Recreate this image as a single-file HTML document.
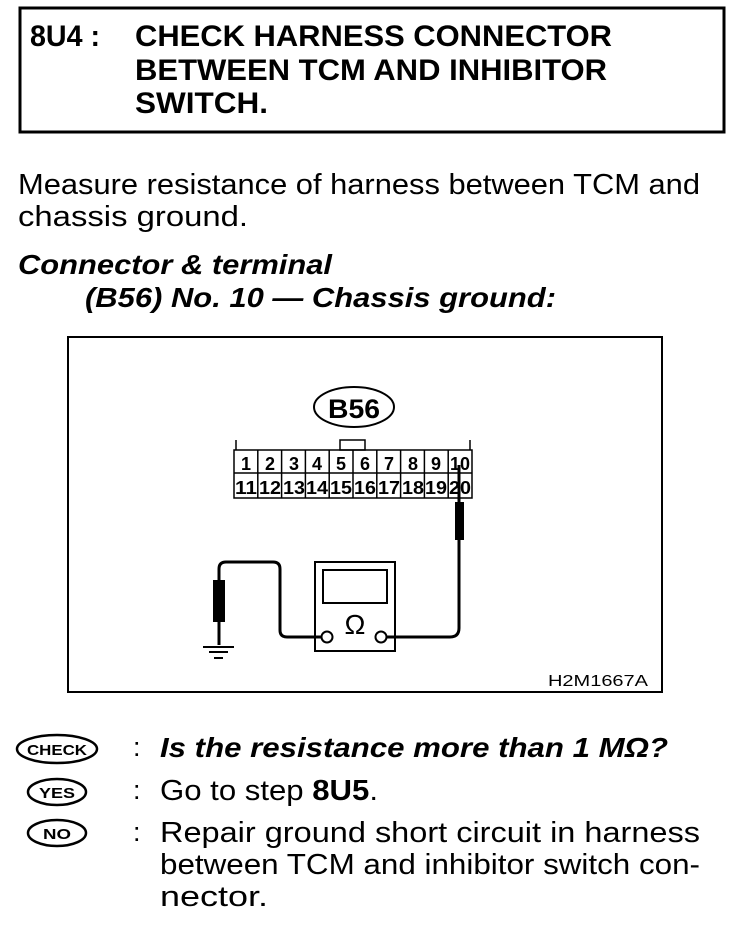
<!DOCTYPE html>
<html><head><meta charset="utf-8"><style>
html,body{margin:0;padding:0;background:#fff}
svg{display:block}
text{font-family:"Liberation Sans Narrow","Liberation Sans",sans-serif;fill:#000}
.b{font-weight:bold}
.bi{font-weight:bold;font-style:italic}
</style></head><body>
<svg width="736" height="926" viewBox="0 0 736 926" xmlns="http://www.w3.org/2000/svg">
<rect x="20" y="8" width="704" height="124" fill="none" stroke="#000" stroke-width="3"/>
<text class="b" x="30" y="46" font-size="30" textLength="70" lengthAdjust="spacingAndGlyphs">8U4 :</text>
<text class="b" x="135" y="46" font-size="30" textLength="477" lengthAdjust="spacingAndGlyphs">CHECK HARNESS CONNECTOR</text>
<text class="b" x="135" y="80" font-size="30" textLength="472" lengthAdjust="spacingAndGlyphs">BETWEEN TCM AND INHIBITOR</text>
<text class="b" x="135" y="113" font-size="30" textLength="133" lengthAdjust="spacingAndGlyphs">SWITCH.</text>

<text x="18" y="194" font-size="29" textLength="682" lengthAdjust="spacingAndGlyphs">Measure resistance of harness between TCM and</text>
<text x="18" y="226" font-size="29" textLength="230" lengthAdjust="spacingAndGlyphs">chassis ground.</text>
<text class="bi" x="18" y="274" font-size="28" textLength="314" lengthAdjust="spacingAndGlyphs">Connector &amp; terminal</text>
<text class="bi" x="85" y="307" font-size="28" textLength="471" lengthAdjust="spacingAndGlyphs">(B56) No. 10 — Chassis ground:</text>

<rect x="68" y="337" width="594" height="355" fill="none" stroke="#000" stroke-width="2"/>
<text x="548" y="686" font-size="16" textLength="100" lengthAdjust="spacingAndGlyphs">H2M1667A</text>

<ellipse cx="354" cy="407" rx="40" ry="20" fill="none" stroke="#000" stroke-width="2"/>
<text class="b" x="354" y="418" font-size="27" text-anchor="middle" font-family="Liberation Sans" textLength="52" lengthAdjust="spacingAndGlyphs">B56</text>

<g stroke="#000" fill="none" stroke-width="1.5">
<rect x="340" y="440" width="25" height="10"/>
<line x1="236" y1="440" x2="236" y2="450"/>
<line x1="470" y1="440" x2="470" y2="450"/>
<rect x="234" y="450" width="238" height="48"/>
<line x1="234" y1="473" x2="472" y2="473"/>
</g>
<g stroke="#000" stroke-width="1.5">
<line x1="257.8" y1="450" x2="257.8" y2="498"/><line x1="281.6" y1="450" x2="281.6" y2="498"/>
<line x1="305.4" y1="450" x2="305.4" y2="498"/><line x1="329.2" y1="450" x2="329.2" y2="498"/>
<line x1="353" y1="450" x2="353" y2="498"/><line x1="376.8" y1="450" x2="376.8" y2="498"/>
<line x1="400.6" y1="450" x2="400.6" y2="498"/><line x1="424.4" y1="450" x2="424.4" y2="498"/>
<line x1="448.2" y1="450" x2="448.2" y2="498"/>
</g>
<g font-size="18" font-family="Liberation Sans" font-weight="bold" text-anchor="middle">
<text x="246" y="470">1</text><text x="270" y="470">2</text><text x="294" y="470">3</text><text x="317" y="470">4</text><text x="341" y="470">5</text><text x="365" y="470">6</text><text x="389" y="470">7</text><text x="413" y="470">8</text><text x="436" y="470">9</text><text x="460" y="470" textLength="20" lengthAdjust="spacingAndGlyphs">10</text>
<text x="246" y="494" textLength="22" lengthAdjust="spacingAndGlyphs">11</text><text x="270" y="494" textLength="22" lengthAdjust="spacingAndGlyphs">12</text><text x="294" y="494" textLength="22" lengthAdjust="spacingAndGlyphs">13</text><text x="317" y="494" textLength="22" lengthAdjust="spacingAndGlyphs">14</text><text x="341" y="494" textLength="22" lengthAdjust="spacingAndGlyphs">15</text><text x="365" y="494" textLength="22" lengthAdjust="spacingAndGlyphs">16</text><text x="389" y="494" textLength="22" lengthAdjust="spacingAndGlyphs">17</text><text x="413" y="494" textLength="22" lengthAdjust="spacingAndGlyphs">18</text><text x="436" y="494" textLength="22" lengthAdjust="spacingAndGlyphs">19</text><text x="460" y="494" textLength="22" lengthAdjust="spacingAndGlyphs">20</text>
</g>

<line x1="459" y1="465" x2="459" y2="505" stroke="#000" stroke-width="3"/>
<rect x="455" y="502" width="9" height="38" fill="#000"/>
<path d="M459 540 V628 Q459 637 450 637 H387" fill="none" stroke="#000" stroke-width="3"/>
<rect x="315" y="562" width="80" height="89" fill="none" stroke="#000" stroke-width="2"/>
<rect x="323" y="570" width="64" height="33" fill="none" stroke="#000" stroke-width="2"/>
<text x="355" y="634" font-size="28" text-anchor="middle" font-family="DejaVu Sans">Ω</text>
<circle cx="327" cy="637" r="5.5" fill="#fff" stroke="#000" stroke-width="2"/>
<circle cx="381" cy="637" r="5.5" fill="#fff" stroke="#000" stroke-width="2"/>
<path d="M321 637 H287 Q280 637 280 630 V569 Q280 562 273 562 H226 Q219 562 219 569 V645" fill="none" stroke="#000" stroke-width="3"/>
<rect x="213" y="580" width="12" height="42" fill="#000"/>
<line x1="203" y1="647" x2="234" y2="647" stroke="#000" stroke-width="2"/>
<line x1="209" y1="652" x2="228" y2="652" stroke="#000" stroke-width="2"/>
<line x1="214" y1="658" x2="223" y2="658" stroke="#000" stroke-width="2"/>

<ellipse cx="57" cy="749" rx="40" ry="14" fill="none" stroke="#000" stroke-width="2.5"/>
<text class="b" x="57" y="755" font-size="15" text-anchor="middle" font-family="Liberation Sans" textLength="60" lengthAdjust="spacingAndGlyphs">CHECK</text>
<ellipse cx="57" cy="792" rx="29" ry="13" fill="none" stroke="#000" stroke-width="2.5"/>
<text class="b" x="57" y="798" font-size="15" text-anchor="middle" font-family="Liberation Sans" textLength="36" lengthAdjust="spacingAndGlyphs">YES</text>
<ellipse cx="57" cy="833" rx="29" ry="13" fill="none" stroke="#000" stroke-width="2.5"/>
<text class="b" x="57" y="839" font-size="15" text-anchor="middle" font-family="Liberation Sans" textLength="28" lengthAdjust="spacingAndGlyphs">NO</text>

<text x="133" y="756" font-size="27">:</text>
<text x="133" y="799" font-size="27">:</text>
<text x="133" y="841" font-size="27">:</text>
<text class="bi" x="160" y="757" font-size="28" textLength="508" lengthAdjust="spacingAndGlyphs">Is the resistance more than 1 MΩ?</text>
<text x="160" y="800" font-size="29" textLength="218" lengthAdjust="spacingAndGlyphs">Go to step <tspan font-weight="bold">8U5</tspan>.</text>
<text x="160" y="842" font-size="29" textLength="540" lengthAdjust="spacingAndGlyphs">Repair ground short circuit in harness</text>
<text x="160" y="874" font-size="29" textLength="540" lengthAdjust="spacingAndGlyphs">between TCM and inhibitor switch con-</text>
<text x="160" y="906" font-size="29" textLength="108" lengthAdjust="spacingAndGlyphs">nector.</text>
</svg>
</body></html>
